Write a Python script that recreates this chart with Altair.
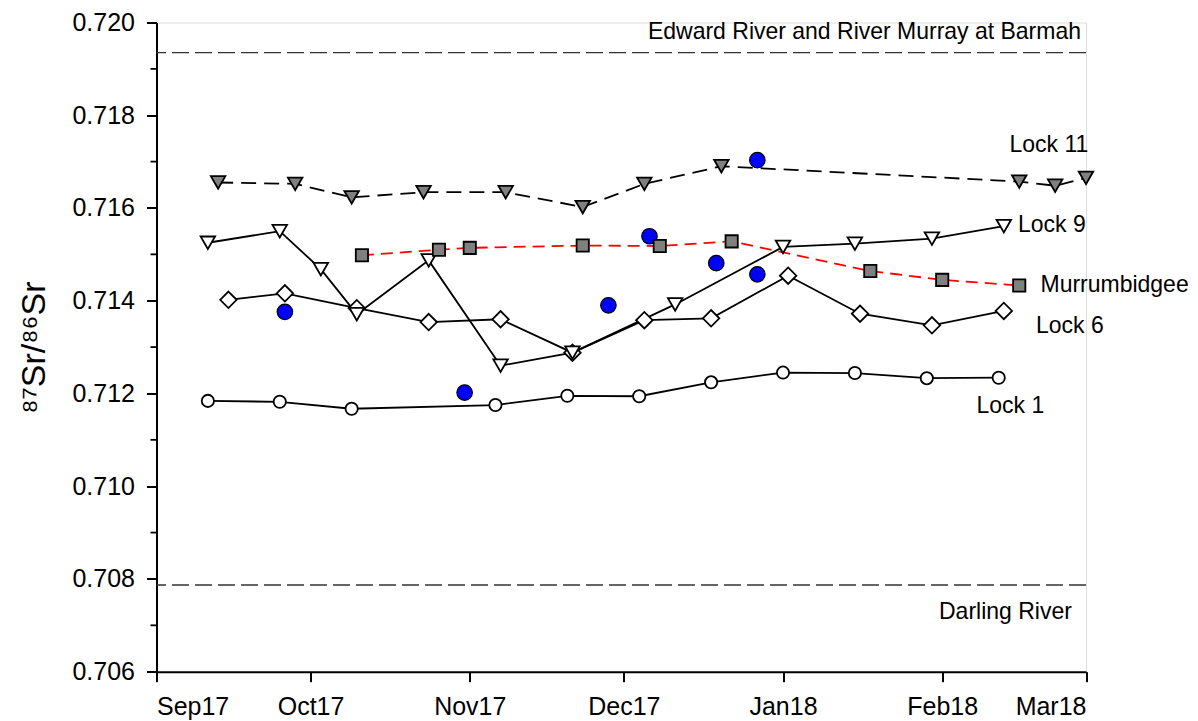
import altair as alt
import pandas as pd

# ---------------- data ----------------
lock1_dates = ["2017-09-11", "2017-09-25", "2017-10-09", "2017-11-06", "2017-11-20",
               "2017-12-04", "2017-12-18", "2018-01-01", "2018-01-15", "2018-01-29", "2018-02-12"]
lock1_vals = [0.71184, 0.71182, 0.71167, 0.71175, 0.71195,
              0.71194, 0.71224, 0.71245, 0.71244, 0.71233, 0.71234]

lock6_dates = ["2017-09-15", "2017-09-26", "2017-10-10", "2017-10-24", "2017-11-07", "2017-11-21",
               "2017-12-05", "2017-12-18", "2018-01-02", "2018-01-16", "2018-01-30", "2018-02-13"]
lock6_vals = [0.71402, 0.71416, 0.71384, 0.71354, 0.71360, 0.71288,
              0.71358, 0.71362, 0.71454, 0.71372, 0.71347, 0.71378]

lock9_dates = ["2017-09-11", "2017-09-25", "2017-10-03", "2017-10-10", "2017-10-24", "2017-11-07",
               "2017-11-21", "2017-12-11", "2018-01-01", "2018-01-15", "2018-01-30", "2018-02-13"]
lock9_vals = [0.71525, 0.71550, 0.71468, 0.71371, 0.71487, 0.71260,
              0.71288, 0.71392, 0.71516, 0.71523, 0.71534, 0.71561]

lock11_dates = ["2017-09-13", "2017-09-28", "2017-10-09", "2017-10-23", "2017-11-08", "2017-11-23",
                "2017-12-05", "2017-12-20", "2018-02-16", "2018-02-23", "2018-03-01"]
lock11_vals = [0.71655, 0.71652, 0.71623, 0.71634, 0.71634, 0.71602,
               0.71652, 0.71690, 0.71657, 0.71648, 0.71665]

murr_dates = ["2017-10-11", "2017-10-26", "2017-11-01", "2017-11-23", "2017-12-08",
              "2017-12-22", "2018-01-18", "2018-02-01", "2018-02-16"]
murr_vals = [0.71498, 0.71510, 0.71514, 0.71519, 0.71518,
             0.71528, 0.71464, 0.71445, 0.71433]

blue_dates = ["2017-09-26", "2017-10-31", "2017-11-28", "2017-12-06", "2017-12-19",
              "2017-12-27", "2017-12-27"]
blue_vals = [0.71376, 0.71202, 0.71390, 0.71539, 0.71481, 0.71457, 0.71703]

edward_val = 0.71935
darling_val = 0.70787

y_major = [0.706, 0.708, 0.710, 0.712, 0.714, 0.716, 0.718, 0.720]
y_minor = [0.707, 0.709, 0.711, 0.713, 0.715, 0.717, 0.719]
x_months = [(2017, 9), (2017, 10), (2017, 11), (2017, 12), (2018, 1), (2018, 2), (2018, 3)]

FONT = "Liberation Sans"

# ---------------- scales / axes ----------------
xscale = alt.Scale(type="utc",
                   domain=[alt.DateTime(year=2017, month=9, date=1, utc=True),
                           alt.DateTime(year=2018, month=3, date=1, utc=True)])
yscale = alt.Scale(domain=[0.706, 0.720], nice=False, zero=False)

xaxis = alt.Axis(values=[alt.DateTime(year=y, month=m, date=1, utc=True) for y, m in x_months],
                 labelExpr="utcFormat(datum.value, '%b%y')", title=None, grid=False,
                 tickSize=10, tickWidth=2, domainWidth=2, labelPadding=13,
                 labelFontSize=25, labelFont=FONT, labelColor="black",
                 domainColor="black", tickColor="black")
yaxis = alt.Axis(values=y_major, format=".3f", title="⁸⁷Sr/⁸⁶Sr", grid=False,
                 tickSize=10, tickWidth=2, domainWidth=2, labelPadding=12,
                 labelFontSize=25, labelFont=FONT, labelColor="black",
                 domainColor="black", tickColor="black",
                 titleFont=FONT, titleFontSize=34, titleFontWeight="normal",
                 titleColor="black", titlePadding=20)

X = alt.X("date:T", scale=xscale, axis=xaxis)
Y = alt.Y("value:Q", scale=yscale, axis=yaxis)


def frame(dates, vals):
    return pd.DataFrame({"date": dates, "value": vals})


def line(dates, vals, color="black", dash=None, width=1.8):
    kw = dict(color=color, strokeWidth=width)
    if dash:
        kw["strokeDash"] = dash
    return alt.Chart(frame(dates, vals)).mark_line(**kw).encode(x=X, y=Y)


def pts(dates, vals, shape, size, fill, sw=1.8):
    return alt.Chart(frame(dates, vals)).mark_point(
        shape=shape, size=size, filled=True, fill=fill, stroke="black",
        strokeWidth=sw, opacity=1).encode(x=X, y=Y)


ref = alt.Chart(pd.DataFrame({"value": [edward_val, darling_val]})).mark_rule(
    color="#333333", strokeWidth=1.4, strokeDash=[17, 6]).encode(y=Y)

minor = alt.Chart(pd.DataFrame({"value": y_minor})).mark_rule(
    color="black", strokeWidth=1.8).encode(y=Y, x=alt.value(-6), x2=alt.value(0))

lines = [
    line(lock1_dates, lock1_vals),
    line(lock6_dates, lock6_vals),
    line(lock9_dates, lock9_vals),
    line(lock11_dates, lock11_vals, dash=[15, 8]),
    line(murr_dates, murr_vals, color="#FF0000", dash=[12, 7]),
]

blue = alt.Chart(frame(blue_dates, blue_vals)).mark_circle(
    size=240, color="#0000FF", stroke="black", strokeWidth=1.2, opacity=1).encode(x=X, y=Y)

markers = [
    pts(lock1_dates, lock1_vals, "circle", 150, "white"),
    pts(lock6_dates, lock6_vals, "diamond", 270, "white"),
    pts(lock9_dates, lock9_vals, "triangle-down", 210, "white"),
    pts(lock11_dates, lock11_vals, "triangle-down", 210, "#808080"),
    pts(murr_dates, murr_vals, "square", 150, "#808080"),
]

# text labels (pixel positions inside the plot area)
TOP = 14.5
label_text = ["Edward River and River Murray at Barmah", "Lock 11", "Lock 9", "Murrumbidgee",
              "Lock 6", "Lock 1", "Darling River"]
label_x = [924.5, 853.0, 861.5, 884.0, 879.5, 820.0, 782.5]
label_y = [v - 1.8 for v in [18.6, 131.0, 211.0, 271.0, 312.6, 392.0, 598.6]]
label_align = ["right", "left", "left", "left", "left", "left", "left"]

texts = []
for t, lx, ly, al in zip(label_text, label_x, label_y, label_align):
    texts.append(alt.Chart(pd.DataFrame({"t": [t]})).mark_text(
        font=FONT, fontSize=23, color="black", align=al, baseline="alphabetic").encode(
        text="t:N", x=alt.value(lx), y=alt.value(ly)))

chart = alt.layer(ref, minor, *lines, blue, *markers, *texts).properties(
    width=929.5, height=649.2,
    autosize=alt.AutoSizeParams(type="none"),
    padding={"left": 148.5, "top": TOP, "right": 104, "bottom": 50},
).configure_view(stroke=None).configure(background="white")

chart.save("out.html", embed_options={"renderer": "svg", "actions": False})
